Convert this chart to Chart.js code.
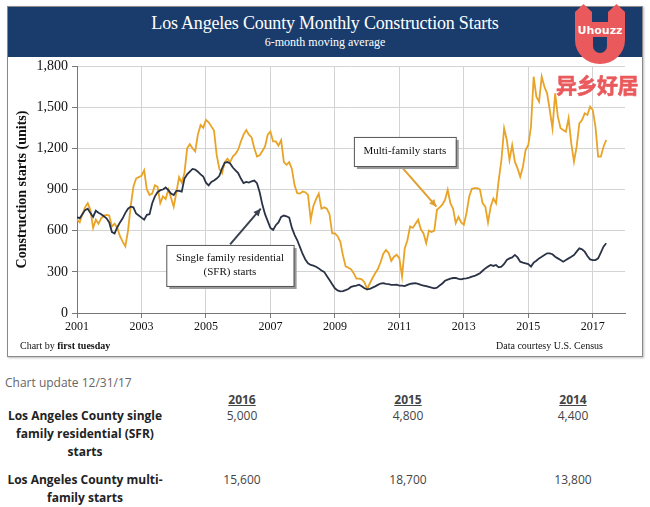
<!DOCTYPE html>
<html>
<head>
<meta charset="utf-8">
<script src="https://cdn.jsdelivr.net/npm/chart.js@4.4.0/dist/chart.umd.min.js"></script>
<style>
  body { margin: 0; width: 650px; height: 507px; background: #fff; position: relative; overflow: hidden; }
  .abs { position: absolute; }
  #frame { left: 7px; top: 6px; width: 634px; height: 349px; border: 1px solid #8a8a8a; box-shadow: 1px 1px 2px #bbb; }
  #titlebar { left: 8px; top: 7px; width: 634px; height: 50px; background: #1a3c6c; color: #fff;
              font-family: 'Liberation Serif', serif; text-align: center; }
  #titlebar .t { font-size: 18px; margin-top: 6px; letter-spacing: -0.2px; }
  #titlebar .s { font-size: 12px; margin-top: 1px; }
  #chart { left: 0; top: 0; }
  .foot { font-family: 'Liberation Serif', serif; font-size: 10px; color: #111; top: 340px; }
  #logo { left: 560px; top: 0; z-index: 5; }
  .cn { left: 556px; top: 69px; z-index: 5; color: #ea5a5c; font-family: 'Noto Sans CJK SC', sans-serif;
        font-weight: bold; font-size: 21px; letter-spacing: -0.5px; -webkit-text-stroke: 0.6px #ea5a5c; }
  .tbl { font-family: 'Open Sans', sans-serif; font-size: 12px; color: #444; }
  .lab { font-weight: bold; color: #222; width: 170px; text-align: center; line-height: 18px; left: 0; }
  .hd { font-weight: bold; text-decoration: underline; color: #444; }
  .num { width: 80px; text-align: center; }
</style>
</head>
<body>
<div id="frame" class="abs"></div>
<div id="titlebar" class="abs">
  <div class="t">Los Angeles County Monthly Construction Starts</div>
  <div class="s">6-month moving average</div>
</div>
<canvas id="chart" class="abs" width="650" height="360"></canvas>
<div class="abs foot" style="left:20px;">Chart by <b>first tuesday</b></div>
<div class="abs foot" style="left:496px;">Data courtesy U.S. Census</div>

<svg id="logo" class="abs" width="80" height="70" viewBox="560 0 80 70">
  <path d="M575 22 L575 12 L583.5 4 L592 12 L592 22 Z" fill="#ea5a5c"/>
  <path d="M608 22 L608 12 L616.5 4 L625 12 L625 22 Z" fill="#ea5a5c"/>
  <path d="M575 22 L625 22 L625 40 A25 24 0 0 1 575 40 Z" fill="#ea5a5c"/>
  <path d="M593 37 L607 37 L607 46 A7 7 0 0 1 593 46 Z" fill="#1a3c6c"/>
  <text x="600" y="34" fill="#fff" font-family="DejaVu Sans" font-weight="bold" font-size="11" text-anchor="middle">Uhouzz</text>
</svg>
<div class="abs cn">异乡好居</div>

<div class="abs tbl" style="left:5px; top:374px; color:#666;">Chart update 12/31/17</div>
<div class="abs tbl hd num" style="left:202px; top:391px;">2016</div>
<div class="abs tbl hd num" style="left:368px; top:391px;">2015</div>
<div class="abs tbl hd num" style="left:533px; top:391px;">2014</div>
<div class="abs tbl lab" style="top:407px;">Los Angeles County single<br>family residential (SFR)<br>starts</div>
<div class="abs tbl lab" style="top:471px;">Los Angeles County multi-<br>family starts</div>
<div id="rows"></div>

<script>
// Monthly values, starting January 2001 (6-month moving average)
const startYear = 2001;
const multiFamily = [
  680, 660, 720, 770, 800, 750, 620, 680, 650, 690, 710, 715,
  710, 630, 650, 620, 560, 520, 485, 600, 780, 920, 980, 990,
  1000, 1040, 900, 860, 870, 930, 920, 800, 850, 830, 900, 840,
  775, 880, 990, 950, 1020, 1200, 1230, 1200, 1177, 1300, 1370, 1350,
  1407, 1390, 1360, 1330, 1150, 1050, 1019, 1100, 1125, 1100, 1140, 1160,
  1190, 1250, 1300, 1334, 1300, 1280, 1200, 1140, 1150, 1180, 1213, 1300,
  1322, 1250, 1250, 1220, 1260, 1100, 1080, 1100, 1050, 930, 873, 870,
  885, 880, 860, 680, 780, 830, 870, 760, 770, 760, 720, 580,
  580, 560, 520, 420, 340, 330, 320, 290, 250, 250, 245, 225,
  175, 215, 255, 290, 320, 370, 430, 460, 437, 380, 410, 425,
  400, 267, 470, 530, 631, 620, 650, 680, 610, 580, 509, 600,
  590, 600, 752, 770, 790, 825, 898, 800, 760, 655, 700, 660,
  643, 728, 849, 905, 910, 910, 900, 799, 775, 660, 775, 835,
  799, 970, 1115, 1346, 1261, 1115, 1224, 1103, 1054, 993, 1066, 1188,
  1224, 1358, 1722, 1576, 1540, 1722, 1649, 1601, 1479, 1346, 1601, 1431,
  1346, 1334, 1321, 1419, 1236, 1103, 1212, 1382, 1406, 1455, 1443, 1504,
  1479, 1358, 1139, 1139, 1212, 1261
];
const singleFamily = [
  700, 690, 720, 750, 760, 728, 700, 745, 730, 720, 705, 690,
  660, 590, 580, 625, 660, 690, 730, 760, 775, 770, 725, 710,
  695, 680, 716, 720, 800, 850, 880, 895, 900, 915, 895, 870,
  860, 890, 890, 885, 980, 1010, 1030, 1050, 1045, 1030, 1010, 995,
  950, 930, 955, 965, 980, 1000, 1055, 1095, 1100, 1090, 1060, 1040,
  1020, 980, 946, 955, 950, 960, 965, 946, 880, 790, 720, 670,
  620, 606, 640, 660, 700, 710, 705, 695, 620, 570, 530, 480,
  430, 390, 362, 350, 345, 337, 325, 310, 300, 270, 240, 210,
  180, 165, 158, 160, 167, 175, 190, 196, 200, 206, 195, 180,
  172, 175, 185, 194, 205, 215, 218, 212, 210, 205, 205, 206,
  200, 200, 196, 205, 212, 215, 218, 212, 205, 200, 195, 190,
  185, 180, 185, 200, 215, 235, 243, 250, 255, 255, 248, 245,
  250, 252, 258, 265, 270, 280, 290, 308, 325, 338, 350, 343,
  350, 333, 338, 357, 386, 398, 405, 423, 405, 374, 367, 362,
  357, 338, 367, 381, 398, 410, 423, 435, 435, 428, 410, 398,
  386, 374, 386, 398, 410, 423, 447, 471, 464, 447, 415, 391,
  386, 386, 398, 440, 483, 508
];
const xTickYears = [2001, 2003, 2005, 2007, 2009, 2011, 2013, 2015, 2017];
const yTicks = [0, 300, 600, 900, 1200, 1500, 1800];

// Table below the chart
const tableYears = ['2016', '2015', '2014'];
const sfrAnnual = ['5,000', '4,800', '4,400'];
const multiAnnual = ['15,600', '18,700', '13,800'];

const colors = { multi: '#e9a326', sfr: '#2a3346', grid: '#d3d3d3', text: '#1a1a1a' };

function toPoints(values) {
    return values.map((v, i) => ({ x: startYear + i / 12, y: v }));
}

// Fill table values
const colLeft = [202, 368, 533];
let rowsHtml = '';
colLeft.forEach((left, i) => {
    rowsHtml += `<div class="abs tbl num" style="left:${left}px; top:407px;">${sfrAnnual[i]}</div>`;
    rowsHtml += `<div class="abs tbl num" style="left:${left}px; top:471px;">${multiAnnual[i]}</div>`;
});
document.getElementById('rows').innerHTML = rowsHtml;

// Callout boxes and arrows, anchored in data space
const callouts = [
    { box: [2003.77, 2007.72, 496, 197], lines: ['Single family residential', '(SFR) starts'],
      arrow: [2005.75, 500, 2006.7, 760], color: '#3a4250' },
    { box: [2009.59, 2012.75, 1283, 1071], lines: ['Multi-family starts'],
      arrow: [2011.05, 1071, 2012.15, 775], color: '#e0a030' }
];

const calloutPlugin = {
    id: 'callouts',
    afterDatasetsDraw(chart) {
        const { ctx, scales: { x, y } } = chart;
        ctx.save();
        callouts.forEach(c => {
            const x1 = x.getPixelForValue(c.box[0]), x2 = x.getPixelForValue(c.box[1]);
            const y1 = y.getPixelForValue(c.box[2]), y2 = y.getPixelForValue(c.box[3]);
            // arrow
            const ax1 = x.getPixelForValue(c.arrow[0]), ay1 = y.getPixelForValue(c.arrow[1]);
            const ax2 = x.getPixelForValue(c.arrow[2]), ay2 = y.getPixelForValue(c.arrow[3]);
            ctx.strokeStyle = c.color;
            ctx.fillStyle = c.color;
            ctx.lineWidth = 2;
            ctx.beginPath();
            ctx.moveTo(ax1, ay1);
            ctx.lineTo(ax2, ay2);
            ctx.stroke();
            const ang = Math.atan2(ay2 - ay1, ax2 - ax1);
            ctx.beginPath();
            ctx.moveTo(ax2, ay2);
            ctx.lineTo(ax2 - 8 * Math.cos(ang - 0.45), ay2 - 8 * Math.sin(ang - 0.45));
            ctx.lineTo(ax2 - 8 * Math.cos(ang + 0.45), ay2 - 8 * Math.sin(ang + 0.45));
            ctx.closePath();
            ctx.fill();
            // box with shadow
            ctx.fillStyle = '#9a9a9a';
            ctx.fillRect(x1 + 3, y1 + 3, x2 - x1, y2 - y1);
            ctx.fillStyle = '#fff';
            ctx.fillRect(x1, y1, x2 - x1, y2 - y1);
            ctx.strokeStyle = '#555';
            ctx.lineWidth = 1;
            ctx.strokeRect(x1 + 0.5, y1 + 0.5, x2 - x1, y2 - y1);
            ctx.fillStyle = '#111';
            ctx.font = '11px "Liberation Serif", serif';
            ctx.textAlign = 'center';
            ctx.textBaseline = 'middle';
            const cy = (y1 + y2) / 2, lh = 14;
            c.lines.forEach((t, i) => {
                ctx.fillText(t, (x1 + x2) / 2, cy + (i - (c.lines.length - 1) / 2) * lh);
            });
        });
        ctx.restore();
    }
};

Chart.defaults.font.family = "'Liberation Serif', 'Times New Roman', serif";
Chart.defaults.color = colors.text;

const ctx = document.getElementById('chart').getContext('2d');
new Chart(ctx, {
    type: 'line',
    data: {
        datasets: [{
            label: 'Single family residential (SFR) starts',
            data: toPoints(singleFamily),
            borderColor: colors.sfr,
            borderWidth: 1.8,
            pointRadius: 0,
            fill: false
        }, {
            label: 'Multi-family starts',
            data: toPoints(multiFamily),
            borderColor: colors.multi,
            borderWidth: 1.8,
            pointRadius: 0,
            fill: false
        }]
    },
    options: {
        responsive: false,
        animation: false,
        layout: { padding: { left: 14, right: 25, top: 66, bottom: 0 } },
        plugins: {
            legend: { display: false },
            tooltip: { enabled: false }
        },
        scales: {
            x: {
                type: 'linear',
                min: 2001,
                max: 2018,
                afterBuildTicks: scale => { scale.ticks = xTickYears.map(v => ({ value: v })); },
                afterFit: scale => { scale.height = 47; },
                ticks: {
                    callback: v => String(v),
                    font: { size: 12 },
                    color: '#111',
                    maxRotation: 0,
                    padding: 2
                },
                grid: { color: colors.grid, tickColor: '#777', tickLength: 5 },
                border: { color: '#777', width: 1 }
            },
            y: {
                min: 0,
                max: 1800,
                afterBuildTicks: scale => { scale.ticks = yTicks.map(v => ({ value: v })); },
                afterFit: scale => { scale.width = 63; },
                ticks: {
                    font: { size: 14 },
                    color: '#111',
                    padding: 4
                },
                grid: { color: colors.grid, tickColor: '#777', tickLength: 5 },
                border: { color: '#777', width: 1 },
                title: {
                    display: true,
                    text: 'Construction starts (units)',
                    font: { size: 14, weight: 'bold' },
                    color: '#111',
                    padding: 0
                }
            }
        }
    },
    plugins: [calloutPlugin]
});
</script>
</body>
</html>
